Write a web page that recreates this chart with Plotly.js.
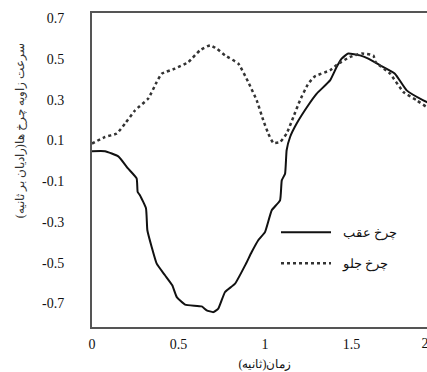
<!DOCTYPE html>
<html>
<head>
<meta charset="utf-8">
<script src="https://cdn.plot.ly/plotly-3.0.1.min.js"></script>
<style>
html,body{margin:0;padding:0;overflow:hidden;background:#fff;}
#chart{width:443px;height:372px;}
</style>
</head>
<body>
<div id="chart"></div>
<script>
// Rear wheel (solid)
var rearT = [0,0.075,0.152,0.208,0.258,0.264,0.277,0.312,0.320,0.345,0.374,0.422,0.464,0.490,0.538,0.634,0.663,0.701,0.730,0.769,0.827,0.890,0.923,0.961,1.0,1.039,1.087,1.097,1.116,1.125,1.145,1.183,1.250,1.299,1.376,1.414,1.443,1.481,1.549,1.597,1.665,1.751,1.819,1.915,1.96];
var rearV = [0.047,0.047,0.022,-0.037,-0.086,-0.153,-0.169,-0.233,-0.341,-0.423,-0.505,-0.562,-0.611,-0.669,-0.706,-0.715,-0.734,-0.743,-0.726,-0.644,-0.603,-0.505,-0.448,-0.39,-0.35,-0.243,-0.194,-0.096,-0.063,0.052,0.117,0.183,0.273,0.33,0.395,0.461,0.502,0.527,0.518,0.502,0.469,0.428,0.346,0.297,0.28];
// Front wheel (dotted)
var frontT = [0,0.075,0.143,0.191,0.249,0.325,0.374,0.403,0.480,0.557,0.624,0.682,0.721,0.769,0.846,0.903,0.952,0.99,1.019,1.048,1.087,1.125,1.164,1.202,1.250,1.289,1.376,1.424,1.491,1.559,1.626,1.639,1.723,1.8,1.877,1.935,1.96];
var frontV = [0.085,0.117,0.134,0.183,0.248,0.306,0.387,0.428,0.453,0.485,0.543,0.567,0.551,0.518,0.477,0.387,0.297,0.199,0.134,0.088,0.092,0.134,0.215,0.297,0.379,0.415,0.445,0.477,0.51,0.527,0.518,0.485,0.428,0.338,0.297,0.264,0.255];

var seriesNames = ['چرخ عقب','چرخ جلو'];
var xTickVals = [0,0.5,1,1.5];
var xTickText = ['0','0.5','1','1.5'];
var xEndTickVals = [2];
var xEndTickText = ['2'];
var yTickVals = [0.7,0.5,0.3,0.1,-0.1,-0.3,-0.5,-0.7];
var yTickText = ['0.7','0.5','0.3','0.1','-0.1','-0.3','-0.5','-0.7'];
var xTitle = 'زمان(ثانیه)';
var yTitle = 'سرعت زاویه چرخ ها(رادیان بر ثانیه)';

var serif = '"Liberation Serif", "Times New Roman", "DejaVu Serif", serif';
var gap = '\u00a0\u00a0';

var traces = [
  {x: rearT, y: rearV, name: gap + seriesNames[0], mode: 'lines', type: 'scatter',
   line: {color: '#111', width: 2, shape: 'spline', smoothing: 0.4}, legend: 'legend'},
  {x: frontT, y: frontV, name: gap + seriesNames[1], mode: 'lines', type: 'scatter',
   line: {color: '#333', width: 2.5, dash: 'dot', shape: 'spline', smoothing: 0.4}, legend: 'legend2'},
  // carrier for the end tick axis (no visible marks)
  {x: [0, 2], y: [0, 0], xaxis: 'x2', yaxis: 'y', mode: 'lines', type: 'scatter',
   line: {width: 0, color: 'rgba(0,0,0,0)'}, showlegend: false, hoverinfo: 'skip'}
];

var layout = {
  width: 443, height: 372,
  margin: {l: 92, r: 5, t: 13, b: 45},
  paper_bgcolor: '#fff', plot_bgcolor: '#fff',
  font: {family: serif, color: '#111', size: 14},
  showlegend: true,
  xaxis: {
    range: [0, 2], showgrid: false, zeroline: false,
    showline: true, linecolor: '#555', linewidth: 2, mirror: true,
    tickvals: xTickVals, ticktext: xTickText,
    ticks: 'outside', ticklen: 3, tickcolor: 'rgba(0,0,0,0)',
    tickfont: {family: serif, size: 14, color: '#111'},
    title: {text: xTitle, font: {size: 12, color: '#111'}, standoff: 9}
  },
  xaxis2: {
    range: [0, 2], overlaying: 'x', anchor: 'y', side: 'bottom',
    showgrid: false, zeroline: false, showline: false,
    tickvals: xEndTickVals, ticktext: xEndTickText,
    ticks: 'outside', ticklen: 3, tickcolor: 'rgba(0,0,0,0)',
    ticklabelshift: -13, ticklabeloverflow: 'allow',
    tickfont: {family: serif, size: 14, color: '#111'}
  },
  yaxis: {
    range: [-0.816, 0.726], showgrid: false, zeroline: false,
    showline: true, linecolor: '#555', linewidth: 2, mirror: true,
    tickvals: yTickVals, ticktext: yTickText,
    ticks: 'outside', ticklen: 23, tickcolor: 'rgba(0,0,0,0)',
    tickfont: {family: serif, size: 14, color: '#111'}
  },
  annotations: [{
    text: yTitle, xref: 'paper', yref: 'paper', textangle: -90,
    x: (20 - 92) / 346, y: (326.7 - 131) / 314, xanchor: 'center', yanchor: 'middle',
    showarrow: false, font: {size: 12, color: '#333'}
  }],
  legend: {
    x: (276 - 92) / 346, y: (326.7 - 232) / 314, xanchor: 'left', yanchor: 'middle',
    bgcolor: 'rgba(0,0,0,0)', itemwidth: 50, font: {size: 13, color: '#111'}
  },
  legend2: {
    x: (276 - 92) / 346, y: (326.7 - 263) / 314, xanchor: 'left', yanchor: 'middle',
    bgcolor: 'rgba(0,0,0,0)', itemwidth: 50, font: {size: 13, color: '#111'}
  }
};

Plotly.newPlot('chart', traces, layout, {displayModeBar: false, staticPlot: true});
</script>
</body>
</html>
